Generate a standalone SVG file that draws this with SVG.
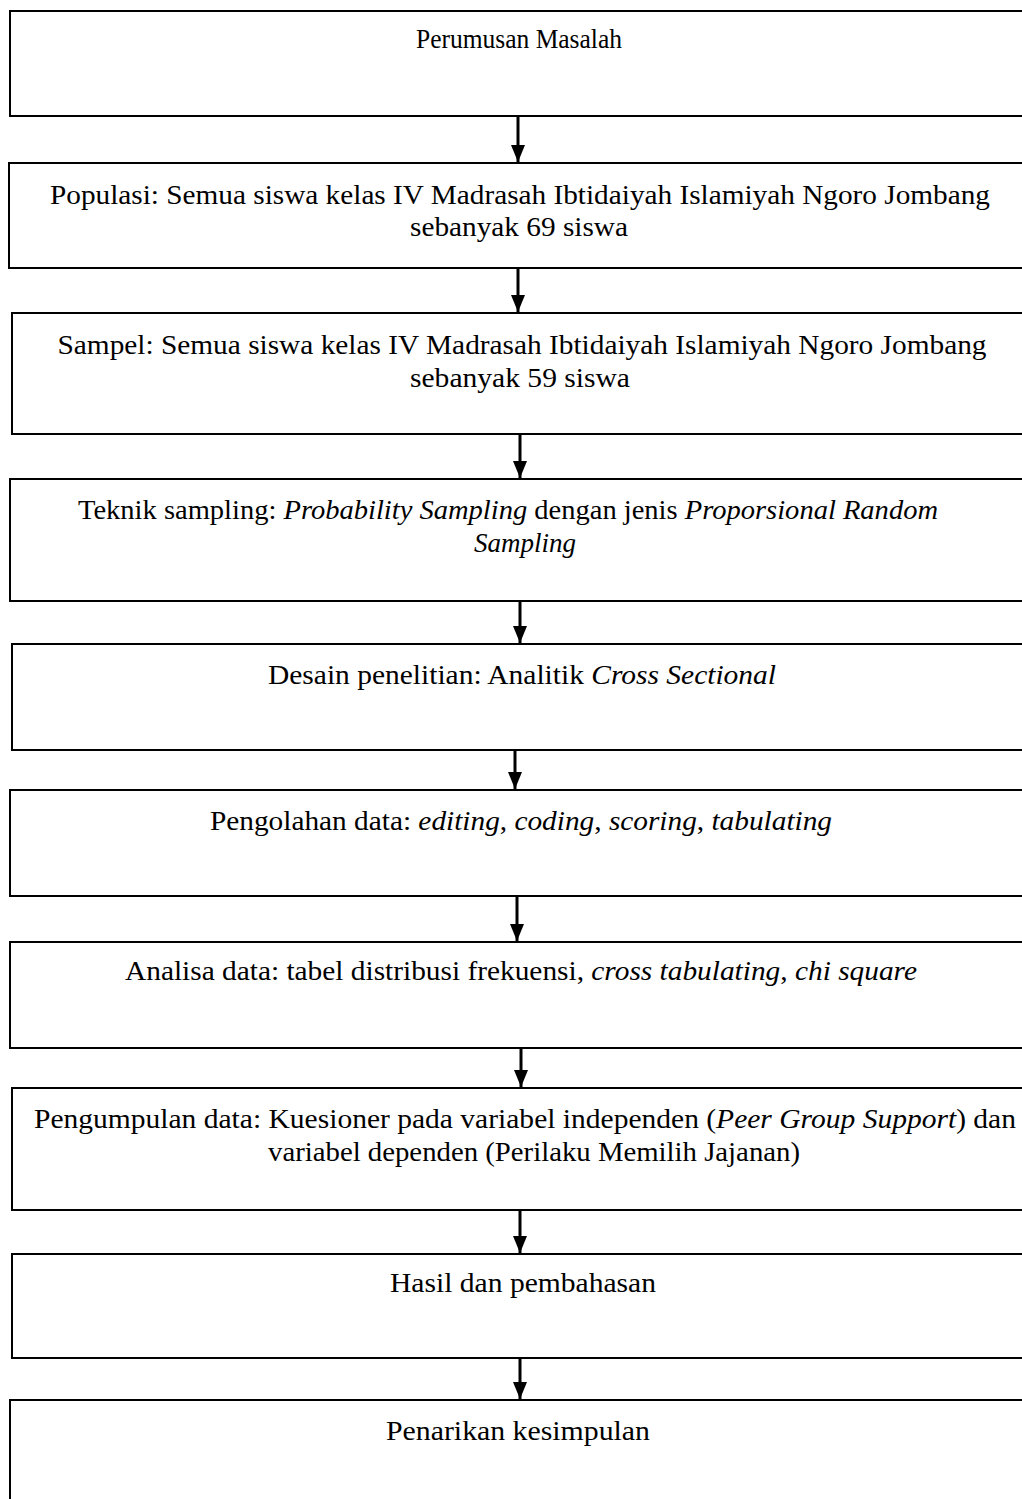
<svg xmlns="http://www.w3.org/2000/svg" width="1022" height="1499" viewBox="0 0 1022 1499">
<style>
.box{fill:#fff;stroke:#000;stroke-width:2}
.t{font-family:"Liberation Serif","Times New Roman",serif;font-size:28px;fill:#000;text-anchor:middle}
.i{font-style:italic}
.c{stroke:#000;stroke-width:3}
</style>
<defs>
<marker id="ah" markerUnits="userSpaceOnUse" markerWidth="18" markerHeight="16" refX="17" refY="8" orient="auto" viewBox="0 0 18 16">
<path d="M0,1 L17,8 L0,15 Z" fill="#000"/>
</marker>
</defs>
<rect width="1022" height="1499" fill="#fff"/>
<g id="n1"><rect class="box" x="10" y="11" width="1030" height="105"/><text class="t" x="519" y="48" style="font-size:27px" textLength="206" lengthAdjust="spacingAndGlyphs">Perumusan Masalah</text></g>
<g id="n2"><rect class="box" x="9" y="163" width="1030" height="105"/><text class="t" x="520" y="204" textLength="940" lengthAdjust="spacingAndGlyphs">Populasi: Semua siswa kelas IV Madrasah Ibtidaiyah Islamiyah Ngoro Jombang</text><text class="t" x="519" y="236" textLength="218" lengthAdjust="spacingAndGlyphs">sebanyak 69 siswa</text></g>
<g id="n3"><rect class="box" x="12" y="313" width="1030" height="121"/><text class="t" x="522" y="354" textLength="929" lengthAdjust="spacingAndGlyphs">Sampel: Semua siswa kelas IV Madrasah Ibtidaiyah Islamiyah Ngoro Jombang</text><text class="t" x="520" y="387" textLength="220" lengthAdjust="spacingAndGlyphs">sebanyak 59 siswa</text></g>
<g id="n4"><rect class="box" x="10" y="479" width="1030" height="122"/><text class="t" x="508" y="519" textLength="860" lengthAdjust="spacingAndGlyphs">Teknik sampling: <tspan class="i">Probability Sampling</tspan> dengan jenis <tspan class="i">Proporsional Random</tspan></text><text class="t i" x="525" y="552" textLength="102" lengthAdjust="spacingAndGlyphs">Sampling</text></g>
<g id="n5"><rect class="box" x="12" y="644" width="1030" height="106"/><text class="t" x="522" y="684" textLength="508" lengthAdjust="spacingAndGlyphs">Desain penelitian: Analitik <tspan class="i">Cross Sectional</tspan></text></g>
<g id="n6"><rect class="box" x="10" y="790" width="1030" height="106"/><text class="t" x="521" y="830" textLength="622" lengthAdjust="spacingAndGlyphs">Pengolahan data: <tspan class="i">editing</tspan>, <tspan class="i">coding</tspan>, <tspan class="i">scoring</tspan>, <tspan class="i">tabulating</tspan></text></g>
<g id="n7"><rect class="box" x="10" y="942" width="1030" height="106"/><text class="t" x="521" y="980" textLength="792" lengthAdjust="spacingAndGlyphs">Analisa data: tabel distribusi frekuensi, <tspan class="i">cross tabulating</tspan>, <tspan class="i">chi square</tspan></text></g>
<g id="n8"><rect class="box" x="12" y="1088" width="1030" height="122"/><text class="t" x="525" y="1128" textLength="982" lengthAdjust="spacingAndGlyphs">Pengumpulan data: Kuesioner pada variabel independen (<tspan class="i">Peer Group Support</tspan>) dan</text><text class="t" x="534" y="1161" textLength="532" lengthAdjust="spacingAndGlyphs">variabel dependen (Perilaku Memilih Jajanan)</text></g>
<g id="n9"><rect class="box" x="12" y="1254" width="1030" height="104"/><text class="t" x="523" y="1292" textLength="266" lengthAdjust="spacingAndGlyphs">Hasil dan pembahasan</text></g>
<g id="n10"><rect class="box" x="10" y="1400" width="1030" height="120"/><text class="t" x="518" y="1440" textLength="264" lengthAdjust="spacingAndGlyphs">Penarikan kesimpulan</text></g>
<g id="connectors">
<line class="c" x1="518" y1="117" x2="518" y2="162" marker-end="url(#ah)"/>
<line class="c" x1="518" y1="269" x2="518" y2="312" marker-end="url(#ah)"/>
<line class="c" x1="520" y1="435" x2="520" y2="478" marker-end="url(#ah)"/>
<line class="c" x1="520" y1="602" x2="520" y2="643" marker-end="url(#ah)"/>
<line class="c" x1="515" y1="751" x2="515" y2="789" marker-end="url(#ah)"/>
<line class="c" x1="517" y1="897" x2="517" y2="941" marker-end="url(#ah)"/>
<line class="c" x1="521" y1="1049" x2="521" y2="1087" marker-end="url(#ah)"/>
<line class="c" x1="520" y1="1211" x2="520" y2="1253" marker-end="url(#ah)"/>
<line class="c" x1="520" y1="1359" x2="520" y2="1399" marker-end="url(#ah)"/>
</g>
</svg>
